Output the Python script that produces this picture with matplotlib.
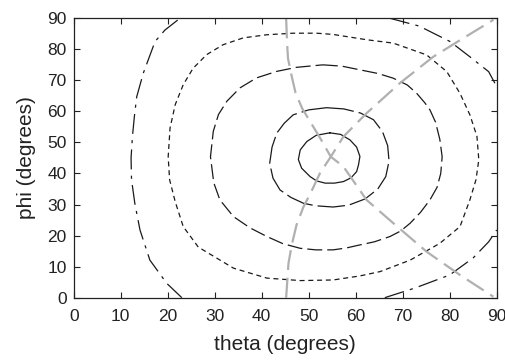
import matplotlib
matplotlib.use('Agg')
import matplotlib.pyplot as plt

# contour lines (theta, phi in degrees)
inner_theta = [54.5, 56.8, 58.8, 60.2, 60.9, 60.6, 60.2, 59.0, 57.4, 55.5, 53.5, 51.7, 50.3, 48.5, 47.8, 48.2, 49.6, 51.6, 54.5]
inner_phi = [53.1, 52.6, 50.8, 48.5, 45.5, 42.8, 40.6, 38.6, 37.4, 36.9, 36.9, 37.6, 39.0, 41.7, 44.5, 47.6, 50.3, 52.3, 53.1]

second_theta = [53.8, 57.5, 61.0, 63.8, 65.7, 66.8, 67.1, 66.4, 64.7, 62.0, 58.5, 55.2, 51.5, 48.9, 46.2, 43.9, 42.4, 41.7, 42.2, 43.2, 44.8, 46.7, 50.0, 53.8]
second_phi = [61.2, 60.8, 59.5, 57.3, 53.5, 49.0, 44.0, 39.0, 35.0, 31.8, 29.8, 29.2, 29.6, 30.4, 32.3, 34.7, 38.5, 43.3, 48.5, 53.0, 56.2, 58.9, 60.5, 61.2]

third_theta = [53.0, 57.0, 60.9, 64.8, 68.0, 71.0, 73.0, 74.7, 75.8, 77.0, 77.9, 78.4, 78.1, 77.3, 75.8, 73.8, 71.6, 69.6, 67.3, 64.0, 60.9, 58.0, 55.2, 51.5, 48.2, 44.5, 41.1, 37.5, 34.0, 31.1, 29.8, 29.1, 29.7, 30.8, 32.6, 35.4, 38.9, 43.2, 47.4, 53.0]
third_phi = [75.0, 74.6, 73.4, 72.2, 70.7, 68.5, 65.8, 62.8, 60.5, 56.5, 51.0, 45.4, 40.0, 35.5, 31.5, 27.5, 24.0, 21.5, 19.7, 18.0, 17.0, 16.0, 15.4, 15.4, 15.9, 17.4, 19.7, 22.5, 26.1, 31.5, 37.0, 45.4, 53.6, 59.0, 63.3, 67.6, 70.8, 72.9, 74.2, 75.0]

fourth_theta = [51.7, 55.2, 62.3, 68.0, 75.1, 79.4, 82.2, 84.3, 85.8, 86.2, 85.6, 84.3, 82.2, 77.9, 71.6, 65.2, 60.9, 55.2, 48.2, 41.1, 34.0, 26.5, 23.3, 21.6, 20.4, 20.1, 20.5, 21.6, 23.3, 25.4, 28.3, 31.8, 36.1, 41.1, 46.7, 51.7]
fourth_phi = [85.2, 84.8, 83.1, 82.0, 78.2, 72.8, 65.8, 58.9, 52.0, 44.4, 38.0, 31.5, 22.9, 17.5, 12.1, 8.4, 7.0, 5.7, 5.5, 6.3, 9.5, 16.3, 22.9, 30.9, 38.0, 45.4, 54.7, 62.2, 68.6, 73.9, 78.3, 81.5, 83.7, 84.7, 85.2, 85.2]

outer_left_theta = [23.0, 19.8, 16.2, 14.1, 13.0, 12.3, 12.2, 12.5, 12.9, 13.4, 14.8, 17.3, 19.4, 22.6]
outer_left_phi = [0.0, 4.6, 12.1, 21.8, 30.4, 38.0, 45.0, 52.0, 58.3, 64.7, 72.3, 82.5, 86.2, 90.0]
outer_top_theta = [67.3, 73.5, 80.1, 84.3, 88.3, 90.0]
outer_top_phi = [90.0, 87.5, 82.5, 77.6, 72.8, 68.0]
outer_bot_theta = [66.2, 72.6, 80.0, 85.0, 88.3, 90.0]
outer_bot_phi = [0.0, 3.1, 7.3, 12.8, 18.0, 21.8]

# grey guide curves crossing at the minimum
grey_a_theta = [45.2, 45.7, 46.4, 47.4, 48.9, 50.5, 52.4, 54.7, 57.4, 62.3, 69.4, 76.5, 82.9, 89.3]
grey_a_phi = [0.0, 11.1, 17.0, 23.4, 29.3, 34.0, 40.1, 45.4, 51.9, 59.4, 69.1, 77.6, 83.6, 89.5]
grey_b_theta = [45.2, 45.4, 45.6, 46.4, 47.2, 48.6, 50.6, 52.6, 54.7, 57.4, 62.3, 68.0, 75.1, 82.2, 89.3]
grey_b_phi = [90.0, 82.0, 77.0, 71.2, 66.0, 61.0, 56.0, 51.0, 45.4, 42.2, 31.5, 24.0, 14.8, 7.3, 0.3]

plt.rcParams['font.family'] = ['Liberation Sans', 'DejaVu Sans']

fig = plt.figure(figsize=(5.05, 3.63), dpi=100)
ax = fig.add_axes([0.146, 0.18, 0.8375, 0.7696])

k = '#1a1a1a'
lw = 0.9
ax.plot(inner_theta, inner_phi, color=k, lw=lw, ls='-')
ax.plot(second_theta, second_phi, color=k, lw=lw, ls=(0, (22, 4)))
ax.plot(third_theta, third_phi, color=k, lw=lw, ls=(0, (12, 4)))
ax.plot(fourth_theta, fourth_phi, color=k, lw=lw, ls=(0, (4, 3)))
for t, p in [(outer_left_theta, outer_left_phi), (outer_top_theta, outer_top_phi),
             (outer_bot_theta, outer_bot_phi)]:
    ax.plot(t, p, color=k, lw=lw, ls=(0, (16, 5, 2.5, 5)))

grey = '#b0b0b0'
ax.plot(grey_a_theta, grey_a_phi, color=grey, lw=1.6, ls=(0, (9, 3.5)))
ax.plot(grey_b_theta, grey_b_phi, color=grey, lw=1.6, ls=(0, (9, 3.5)))

ax.set_xlim(0, 90)
ax.set_ylim(0, 90)
ax.set_xticks(range(0, 91, 10))
ax.set_yticks(range(0, 91, 10))
ax.tick_params(direction='in', length=4, width=0.8, top=True, right=True,
               labelsize=12.5, colors='#222222')
ax.tick_params(axis='x', pad=8)
ax.tick_params(axis='y', pad=5)
for s in ax.spines.values():
    s.set_linewidth(0.9)
    s.set_color('#222222')

ax.set_xlabel('theta (degrees)', fontsize=15, labelpad=8, color='#222222')
ax.set_ylabel('phi (degrees)', fontsize=15, labelpad=8, color='#222222')

plt.savefig('out.png', dpi=100)
